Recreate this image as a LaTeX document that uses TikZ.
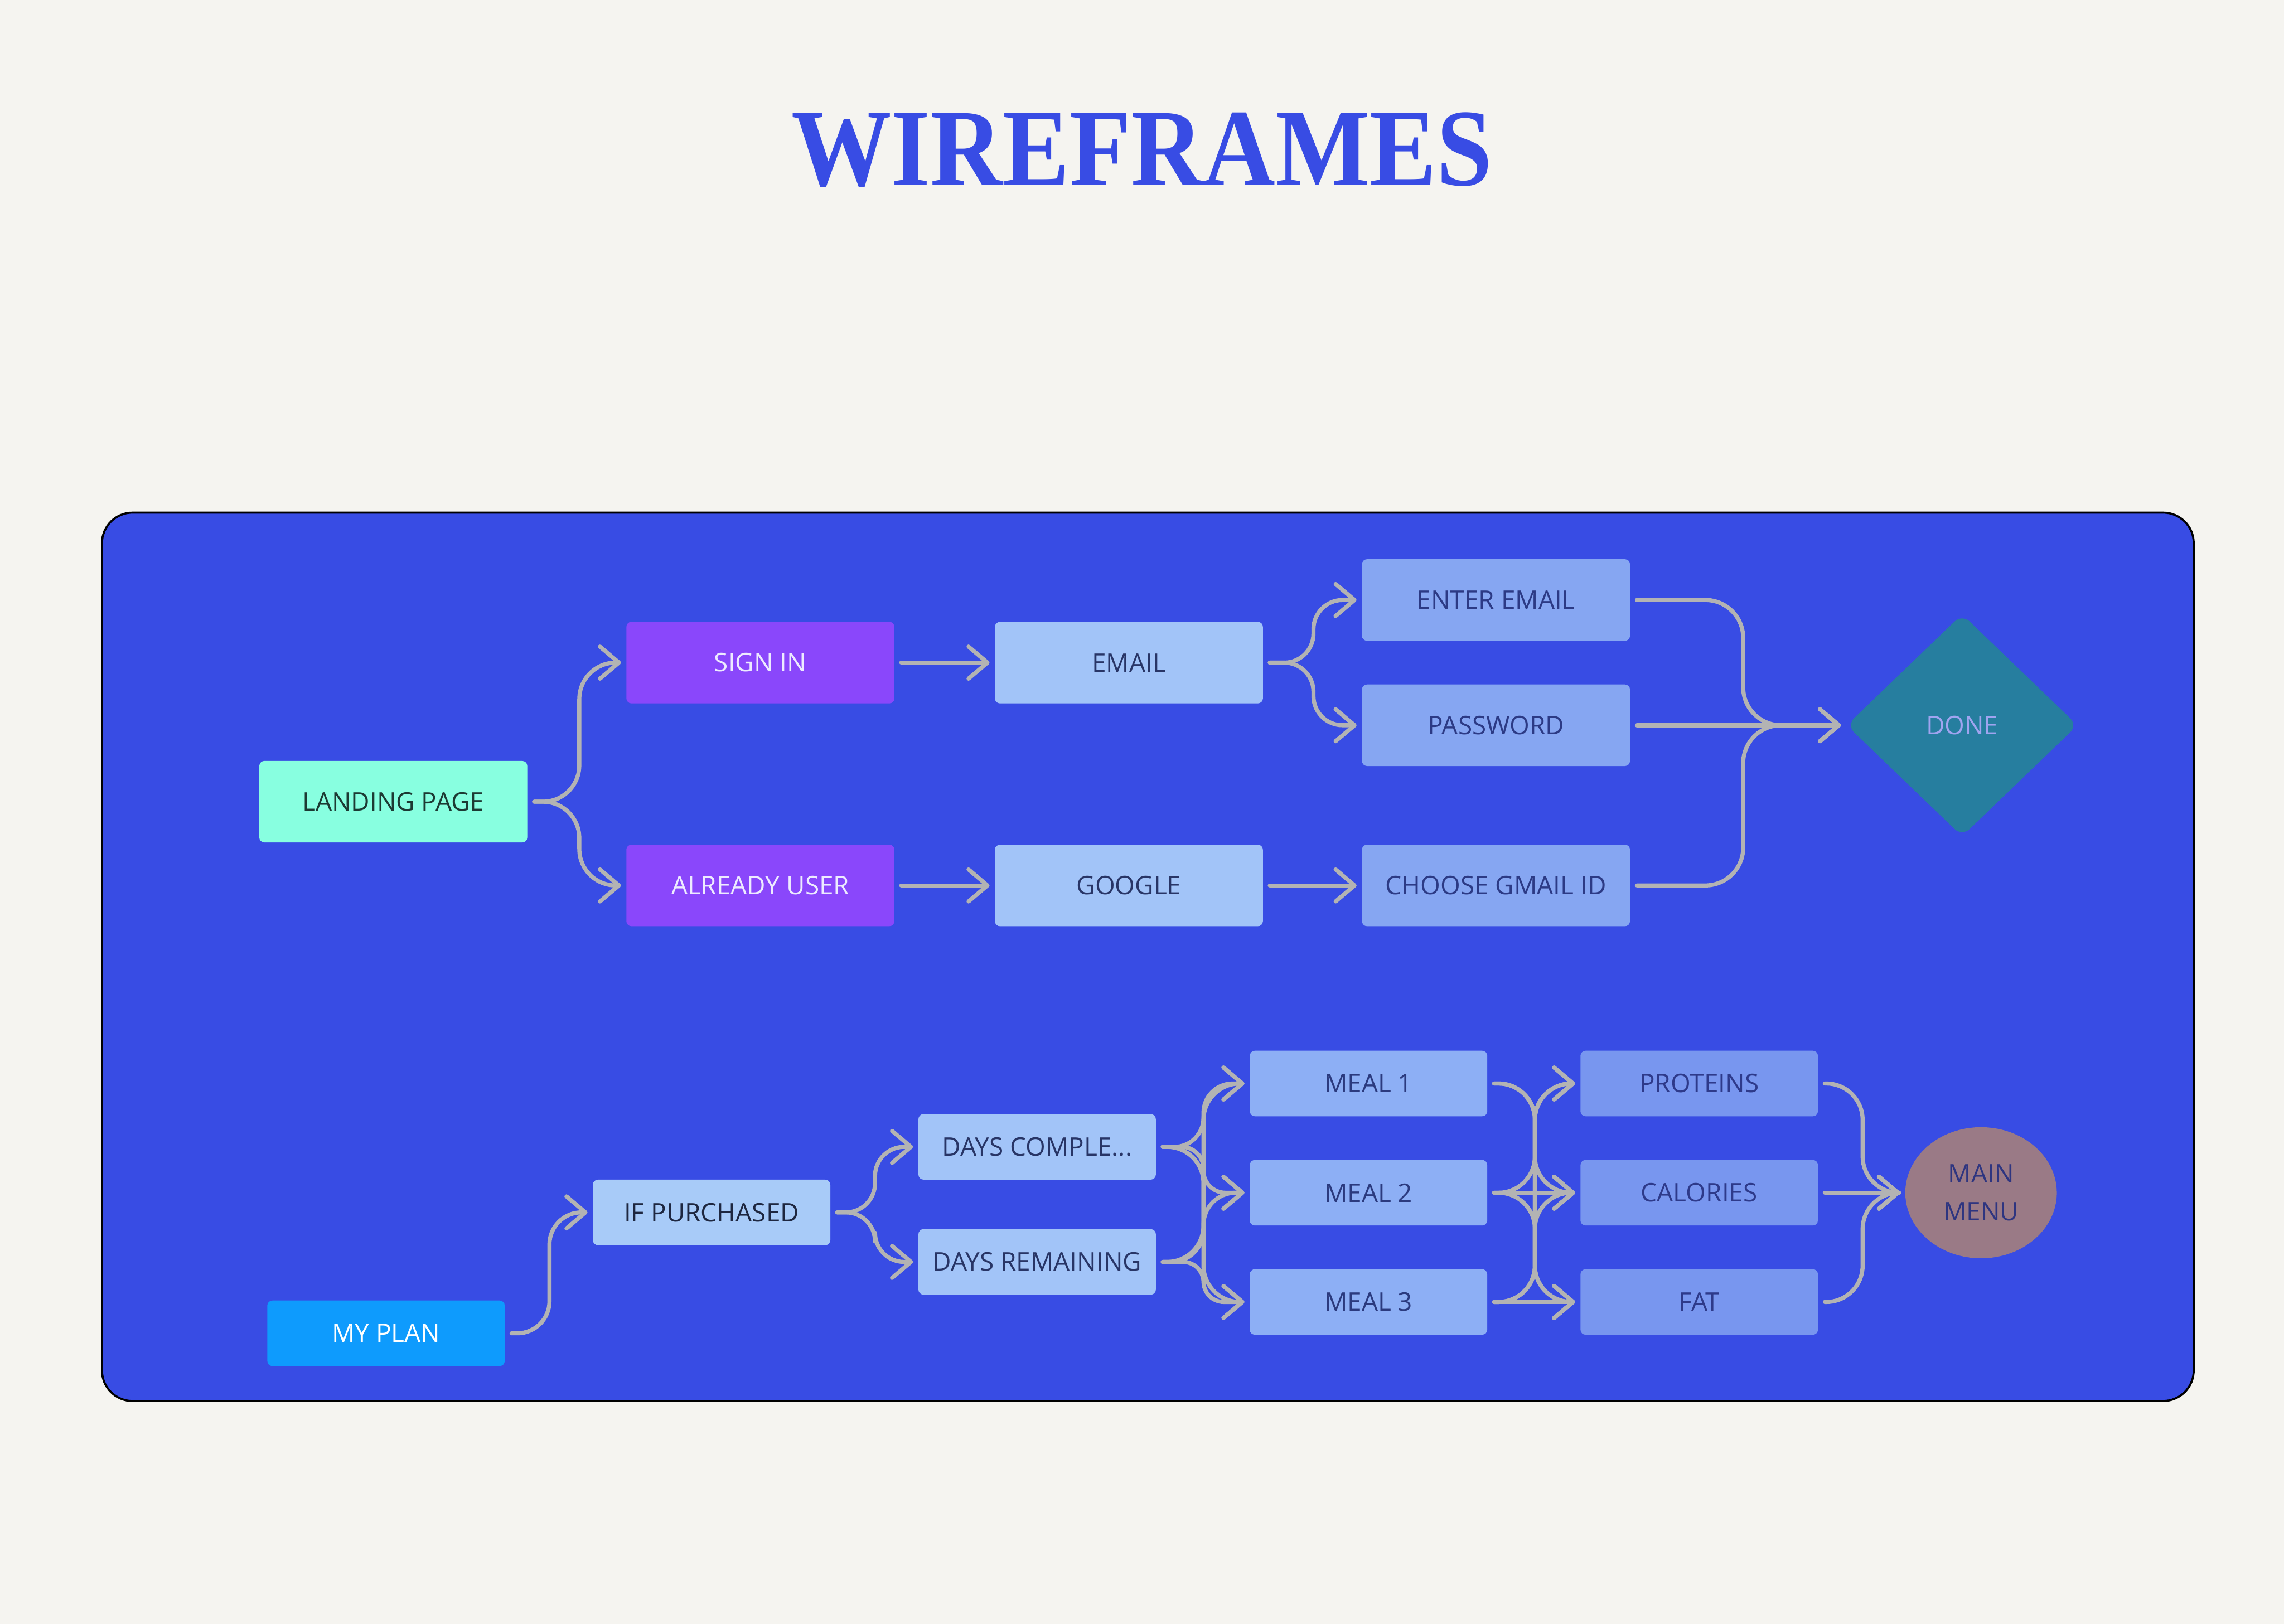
\documentclass[tikz,border=0pt]{standalone}
\usepackage{fontspec}
\setmainfont{Open Sans}
\newfontfamily\titlefont{Liberation Serif}
\usepackage{graphicx}
\usetikzlibrary{arrows.meta, shapes.geometric}
\definecolor{paper}{HTML}{F5F4F0}
\definecolor{panelblue}{HTML}{384CE4}
\definecolor{linkgray}{HTML}{B3B3B3}
\definecolor{mint}{HTML}{88FFE0}
\definecolor{mintink}{HTML}{1D3A33}
\definecolor{violet}{HTML}{8A47FB}
\definecolor{violetink}{HTML}{EDEBFF}
\definecolor{paleblue}{HTML}{A2C4F8}
\definecolor{paleink}{HTML}{283566}
\definecolor{purchblue}{HTML}{A8CBF8}
\definecolor{purchink}{HTML}{1E2740}
\definecolor{loginblue}{HTML}{86A6F2}
\definecolor{loginink}{HTML}{2C3A85}
\definecolor{mealblue}{HTML}{8DAFF5}
\definecolor{mealink}{HTML}{2B3A7E}
\definecolor{nutriblue}{HTML}{7896EF}
\definecolor{nutriink}{HTML}{2E3A8A}
\definecolor{skyblue}{HTML}{0E9BFD}
\definecolor{teal}{HTML}{267E9F}
\definecolor{tealink}{HTML}{A0A4F0}
\definecolor{mauve}{HTML}{9A7A86}
\definecolor{mauveink}{HTML}{2E3580}
\tikzset{
  card/.style   = {rectangle, rounded corners=1pt, minimum width=1.84cm, minimum height=0.56cm,
                   inner sep=0pt, font=\fontsize{5}{7.4}\selectfont},
  slim/.style   = {card, minimum width=1.63cm, minimum height=0.45cm},
  link/.style   = {draw=linkgray, line width=0.8pt, line cap=round, line join=round,
                   -{Straight Barb[length=1.3mm, width=2.2mm, round]},
                   shorten <=0.4mm, shorten >=0.3mm},
}

\begin{document}
\begin{tikzpicture}

\fill[paper] (0,0) rectangle (15.68,-11.15);
\useasboundingbox (0,0) rectangle (15.68,-11.15);

\node[font=\titlefont\bfseries\fontsize{21.5}{24}\selectfont, text=panelblue] (title) at (7.84,-1.03)
  {\scalebox{0.91}[1]{WIREFRAMES}};

\draw[black, line width=0.4pt, fill=panelblue, rounded corners=2.1mm] (0.70,-3.52) rectangle (15.06,-9.62);

% ---------------- sign in flow ----------------
\node[card, fill=mint, text=mintink] (lp) at (2.70,-5.505) {LANDING PAGE};
\node[card, fill=violet, text=violetink] (si) at (5.22,-4.55) {SIGN IN};
\node[card, fill=violet, text=violetink] (au) at (5.22,-6.08) {ALREADY USER};
\node[card, fill=paleblue, text=paleink] (em) at (7.75,-4.55) {EMAIL};
\node[card, fill=paleblue, text=paleink] (go) at (7.75,-6.08) {GOOGLE};
\node[card, fill=loginblue, text=loginink] (ee) at (10.27,-4.12) {ENTER EMAIL};
\node[card, fill=loginblue, text=loginink] (pw) at (10.27,-4.98) {PASSWORD};
\node[card, fill=loginblue, text=loginink] (cg) at (10.27,-6.08) {CHOOSE GMAIL ID};
\node[diamond, fill=teal, text=tealink, rounded corners=2pt, minimum width=1.59cm,
      minimum height=1.53cm, inner sep=0pt, font=\fontsize{5}{6}\selectfont] (done) at (13.47,-4.98) {DONE};

\draw[link, rounded corners=2.5mm] (lp.east) -- ++(0.35,0) |- (si.west);
\draw[link, rounded corners=2.5mm] (lp.east) -- ++(0.35,0) |- (au.west);
\draw[link] (si) -- (em);
\draw[link] (au) -- (go);
\draw[link, rounded corners=2mm] (em.east) -- ++(0.34,0) |- (ee.west);
\draw[link, rounded corners=2mm] (em.east) -- ++(0.34,0) |- (pw.west);
\draw[link] (go) -- (cg);
\draw[link, rounded corners=2.6mm] (ee.east) -- ++(0.77,0) |- (done.west);
\draw[link] (pw) -- (done);
\draw[link, rounded corners=2.6mm] (cg.east) -- ++(0.77,0) |- (done.west);

% ---------------- my plan flow ----------------
\node[slim, fill=skyblue, text=white] (mp) at (2.65,-9.155) {MY PLAN};
\node[slim, fill=purchblue, text=purchink] (ip) at (4.885,-8.325) {IF PURCHASED};
\node[slim, fill=paleblue, text=paleink] (dc) at (7.12,-7.875) {DAYS COMPLE...};
\node[slim, fill=paleblue, text=paleink] (dr) at (7.12,-8.665) {DAYS REMAINING};
\node[slim, fill=mealblue, text=mealink] (m1) at (9.395,-7.44) {MEAL 1};
\node[slim, fill=mealblue, text=mealink] (m2) at (9.395,-8.19) {MEAL 2};
\node[slim, fill=mealblue, text=mealink] (m3) at (9.395,-8.94) {MEAL 3};
\node[slim, fill=nutriblue, text=nutriink] (pr) at (11.665,-7.44) {PROTEINS};
\node[slim, fill=nutriblue, text=nutriink] (ca) at (11.665,-8.19) {CALORIES};
\node[slim, fill=nutriblue, text=nutriink] (fa) at (11.665,-8.94) {FAT};
\node[ellipse, fill=mauve, text=mauveink, minimum width=1.04cm, minimum height=0.90cm,
      inner sep=0pt, align=center, font=\fontsize{5}{7.4}\selectfont] (mm) at (13.60,-8.19) {MAIN\\MENU};

\draw[link, rounded corners=2.2mm] (mp.east) -- ++(0.30,0) |- (ip.west);
\draw[link, rounded corners=2mm] (ip.east) -- ++(0.30,0) |- (dc.west);
\draw[link, rounded corners=2mm] (ip.east) -- ++(0.30,0) |- (dr.west);
\foreach \src/\dst/\r in {dc/m1/2, dc/m2/1.5, dc/m3/2.5, dr/m1/2.5, dr/m2/2.2, dr/m3/1.4}
  \draw[link, rounded corners=\r mm] (\src.east) -- ++(0.32,0) |- (\dst.west);
\foreach \src/\dst in {m1/ca, m1/fa, m2/pr, m2/fa, m3/pr, m3/ca}
  \draw[link, rounded corners=2.5mm] (\src.east) -- ++(0.32,0) |- (\dst.west);
\draw[link] (m2) -- (ca);
\draw[link] (m3) -- (fa);
\draw[link, rounded corners=2.5mm] (pr.east) -- ++(0.30,0) |- (mm.west);
\draw[link] (ca) -- (mm);
\draw[link, rounded corners=2.5mm] (fa.east) -- ++(0.30,0) |- (mm.west);

\end{tikzpicture}
\end{document}
